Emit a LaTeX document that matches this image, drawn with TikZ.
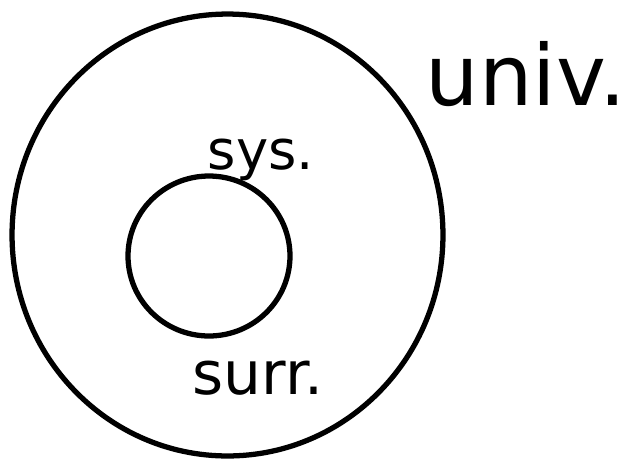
\documentclass[tikz,border=0pt]{standalone}
\usepackage{fontspec}
\setmainfont{DejaVu Sans}
\usetikzlibrary{shapes.geometric}

\begin{document}
\begin{tikzpicture}[
    x=0.02cm, y=-0.02cm,
    ring/.style={ellipse, draw=black, line width=3pt, inner sep=0pt},
    lbl/.style={font=\fontsize{31}{34}\selectfont, inner sep=0pt},
]
\useasboundingbox (0,0) rectangle (642,464);

% Universe boundary
\node[ring, minimum width=8.62cm, minimum height=8.84cm] (surr) at (227.5,235) {};

% System
\node[ring, minimum width=3.24cm, minimum height=3.2cm] (sys) at (209,256) {};

% Labels
\node[lbl] (syslbl) at (261,160) {sys.};
\node[lbl, font=\fontsize{34}{38}\selectfont] (surrlbl) at (258,378) {surr.};
\node[lbl, font=\fontsize{48}{52}\selectfont] (univlbl) at (526,74) {univ.};
\end{tikzpicture}
\end{document}
